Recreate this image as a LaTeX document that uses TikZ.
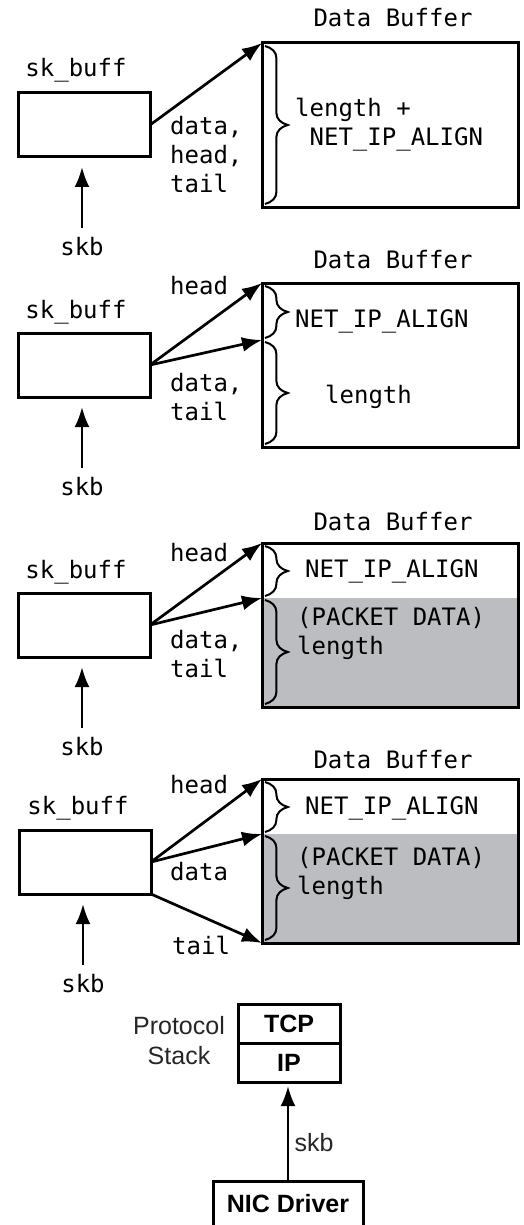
\documentclass[tikz,border=0pt]{standalone}
\usepackage{fontspec}
\usepackage{tikz}
\usetikzlibrary{arrows.meta,calc,decorations.pathreplacing,positioning}
\newfontfamily\bufmono{DejaVu Sans Mono}
\newfontfamily\stacksans{Liberation Sans}
\definecolor{PktGray}{RGB}{188,189,192}
\definecolor{InkDark}{HTML}{262626}

\begin{document}
\begin{tikzpicture}[
      x=1pt,y=-1pt,
      >={Latex[length=20pt,width=15pt]},
      ptr/.style={->,line width=2.7pt},
      skbox/.style={draw,line width=3pt,minimum width=132pt,minimum height=64pt,
        inner sep=0pt,outer sep=0pt},
      bufbox/.style={draw,line width=3pt,minimum width=256pt,minimum height=164pt,
        inner sep=0pt,outer sep=0pt},
      pktbuf/.style={bufbox,path picture={\fill[PktGray]
        ([yshift=-55pt]path picture bounding box.north west)
        rectangle (path picture bounding box.south east);}},
      mono/.style={font=\bufmono\fontsize{24}{29}\selectfont,inner sep=0pt,align=left},
      stackbox/.style={draw,line width=3pt,minimum width=102pt,minimum height=39pt,
        inner sep=0pt,outer sep=0pt,font=\stacksans\bfseries\fontsize{25}{30}\selectfont},
      sanslbl/.style={font=\stacksans\fontsize{25}{30}\selectfont,inner sep=0pt,
        align=center,text=InkDark},
      bufbrace/.style={decorate,decoration={brace,amplitude=12pt,transform={yscale=1.9}},
        line width=2pt}
    ]
    \path[use as bounding box,fill=white] (0,0) rectangle (524,1225);

    % buffer just allocated
    \node[mono] (db1) at (393,18) {Data Buffer};
    \node[mono] (skl1) at (76,70) {sk\_buff};
    \node[skbox] (sk1) at (84,125) {};
    \node[bufbox] (buf1) at (390,125) {};
    \node[mono,anchor=west] (pt1) at (170,155) {data,\\head,\\tail};
    \node[mono,anchor=west] (len1) at (295,125) {length +\\\ NET\_IP\_ALIGN};
    \node[mono] (skb1) at (82,247) {skb};
    \draw[ptr] (sk1.east) -- (buf1.north west);
    \draw[bufbrace] ([shift={(3pt,-3pt)}]buf1.north west) -- ([shift={(3pt,3pt)}]buf1.south west);
    \draw[ptr,shorten <=10pt,shorten >=10pt] (skb1.north) -- (skb1.north |- sk1.south);

    % after skb_reserve
    \node[mono] (db2) at (393,260) {Data Buffer};
    \node[mono] (skl2) at (76,312) {sk\_buff};
    \node[skbox] (sk2) at (84,365) {};
    \node[bufbox] (buf2) at (390,365) {};
    \coordinate (mid2) at ($(buf2.north west)+(0,57)$);
    \node[mono,anchor=west] (hd2) at (170,286) {head};
    \node[mono,anchor=west] (dt2) at (170,397) {data,\\tail};
    \node[mono,anchor=west] (al2) at (295,321) {NET\_IP\_ALIGN};
    \node[mono,anchor=west] (len2) at (325,397) {length};
    \node[mono] (skb2) at (82,487) {skb};
    \draw[ptr] (sk2.east) -- (buf2.north west);
    \draw[ptr] (sk2.east) -- (mid2);
    \draw[bufbrace] ([shift={(3pt,-3pt)}]buf2.north west) -- ([shift={(3pt,2pt)}]mid2);
    \draw[bufbrace] ([shift={(3pt,-2pt)}]mid2) -- ([shift={(3pt,3pt)}]buf2.south west);
    \draw[ptr,shorten <=10pt,shorten >=10pt] (skb2.north) -- (skb2.north |- sk2.south);

    % packet data copied in
    \node[mono] (db3) at (393,522) {Data Buffer};
    \node[mono] (skl3) at (76,572) {sk\_buff};
    \node[skbox] (sk3) at (84,625) {};
    \node[pktbuf] (buf3) at (390,625) {};
    \coordinate (mid3) at ($(buf3.north west)+(0,55)$);
    \node[mono,anchor=west] (hd3) at (170,553) {head};
    \node[mono,anchor=west] (dt3) at (170,654) {data,\\tail};
    \node[mono,anchor=west] (al3) at (305,571) {NET\_IP\_ALIGN};
    \node[mono,anchor=west] (len3) at (297,633) {(PACKET DATA)\\length};
    \node[mono] (skb3) at (82,747) {skb};
    \draw[ptr] (sk3.east) -- (buf3.north west);
    \draw[ptr] (sk3.east) -- (mid3);
    \draw[bufbrace] ([shift={(3pt,-3pt)}]buf3.north west) -- ([shift={(3pt,2pt)}]mid3);
    \draw[bufbrace] ([shift={(3pt,-2pt)}]mid3) -- ([shift={(3pt,3pt)}]buf3.south west);
    \draw[ptr,shorten <=10pt,shorten >=10pt] (skb3.north) -- (skb3.north |- sk3.south);

    % after skb_put
    \node[mono] (db4) at (393,760) {Data Buffer};
    \node[mono] (skl4) at (78,808) {sk\_buff};
    \node[skbox] (sk4) at (85,862) {};
    \node[pktbuf] (buf4) at (390,861) {};
    \coordinate (mid4) at ($(buf4.north west)+(0,55)$);
    \node[mono,anchor=west] (hd4) at (170,785) {head};
    \node[mono,anchor=west] (dt4) at (170,872) {data};
    \node[mono,anchor=west] (tl4) at (172,945) {tail};
    \node[mono,anchor=west] (al4) at (305,808) {NET\_IP\_ALIGN};
    \node[mono,anchor=west] (len4) at (297,873) {(PACKET DATA)\\length};
    \node[mono] (skb4) at (83,984) {skb};
    \draw[ptr] (sk4.east) -- (buf4.north west);
    \draw[ptr] (sk4.east) -- (mid4);
    \draw[ptr] (sk4.south east) -- (buf4.south west);
    \draw[bufbrace] ([shift={(3pt,-3pt)}]buf4.north west) -- ([shift={(3pt,2pt)}]mid4);
    \draw[bufbrace] ([shift={(3pt,-2pt)}]mid4) -- ([shift={(3pt,3pt)}]buf4.south west);
    \draw[ptr,shorten <=10pt,shorten >=10pt] (skb4.north) -- (skb4.north |- sk4.south);

    % handed up the stack
    \node[sanslbl] (stk) at (179,1041) {Protocol\\Stack};
    \node[stackbox] (tcp) at (289,1023.5) {TCP};
    \node[stackbox,below=0pt of tcp] (ip) {IP};
    \node[stackbox,minimum width=150pt,minimum height=46pt] (nic) at (288,1204) {NIC Driver};
    \node[sanslbl] (skb5) at (314,1143) {skb};
    \draw[ptr,shorten >=4pt] (nic.north) -- (nic.north |- ip.south);
  \end{tikzpicture}
\end{document}
